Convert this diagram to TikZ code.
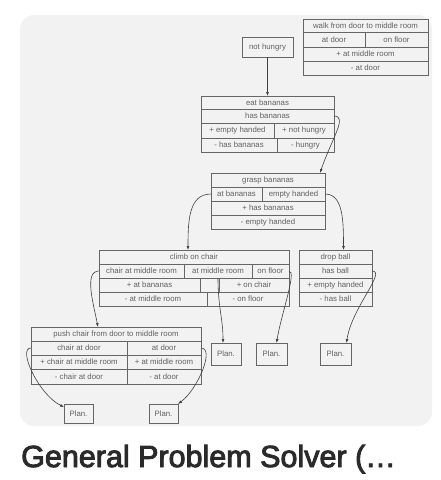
\documentclass[tikz,border=0pt]{standalone}
\usepackage{fontspec}
\setmainfont{Liberation Sans}
\newfontfamily\titlefont[FakeBold=3]{Liberation Sans}
\usetikzlibrary{arrows.meta}

\definecolor{cardgray}{HTML}{F2F2F2}
\definecolor{titleink}{HTML}{2A2A2A}

% one cell of a record: name, x1, y1, x2, y2, text
\newcommand{\rcell}[6]{\node (#1) [cell, minimum width={#4-#2}, minimum height={#5-#3}]
  at ({(#2+#4)/2},{(#3+#5)/2}) {#6};}

\begin{document}
\begin{tikzpicture}[x=1pt, y=-1pt,
    cell/.style={draw=black!60, line width=0.65pt, inner sep=0pt, outer sep=0pt,
                 text=black!62, font=\fontsize{7.8}{8}\selectfont},
    edge/.style={draw=black!75, line width=0.6pt, -{Latex[length=4pt,width=3pt]}}]
  \useasboundingbox (0,0) rectangle (440,480);
  \fill[cardgray, rounded corners=14pt] (20,15) rectangle (432,426);

  % operator: walk
  \rcell{walk}{303}{19}{428}{32}{walk from door to middle room}
  \rcell{walk-pre1}{303}{32}{365}{47}{at door}
  \rcell{walk-pre2}{365}{32}{428}{47}{on floor}
  \rcell{walk-add}{303}{47}{428}{61}{+ at middle room}
  \rcell{walk-del}{303}{61}{428}{75}{- at door}

  % goal
  \rcell{goal}{242}{37}{293}{57}{not hungry}

  % operator: eat
  \rcell{eat}{201}{96}{334}{109}{eat bananas}
  \rcell{eat-pre}{201}{109}{334}{123}{has bananas}
  \rcell{eat-add1}{201}{123}{274}{138}{+ empty handed}
  \rcell{eat-add2}{274}{123}{334}{138}{+ not hungry}
  \rcell{eat-del1}{201}{138}{277}{152}{- has bananas}
  \rcell{eat-del2}{277}{138}{334}{152}{- hungry}

  % operator: grasp
  \rcell{grasp}{211}{173}{325}{187}{grasp bananas}
  \rcell{grasp-pre1}{211}{187}{262}{201}{at bananas}
  \rcell{grasp-pre2}{262}{187}{325}{201}{empty handed}
  \rcell{grasp-add}{211}{201}{325}{215}{+ has bananas}
  \rcell{grasp-del}{211}{215}{325}{229}{- empty handed}

  % operator: climb
  \rcell{climb}{99}{250}{289}{264}{climb on chair}
  \rcell{climb-pre1}{99}{264}{184}{278}{chair at middle room}
  \rcell{climb-pre2}{184}{264}{252}{278}{at middle room}
  \rcell{climb-pre3}{252}{264}{289}{278}{on floor}
  \rcell{climb-add1}{99}{278}{200}{292}{+ at bananas}
  \rcell{climb-add2}{200}{278}{219}{292}{}
  \rcell{climb-add3}{219}{278}{289}{292}{+ on chair}
  \rcell{climb-del1}{99}{292}{207}{306}{- at middle room}
  \rcell{climb-del2}{207}{292}{289}{306}{- on floor}

  % operator: drop
  \rcell{drop}{299}{250}{372}{264}{drop ball}
  \rcell{drop-pre}{299}{264}{372}{278}{has ball}
  \rcell{drop-add}{299}{278}{372}{292}{+ empty handed}
  \rcell{drop-del}{299}{292}{372}{306}{- has ball}

  % operator: push
  \rcell{push}{31}{327}{201}{341}{push chair from door to middle room}
  \rcell{push-pre1}{31}{341}{127}{355}{chair at door}
  \rcell{push-pre2}{127}{341}{201}{355}{at door}
  \rcell{push-add1}{31}{355}{127}{369}{+ chair at middle room}
  \rcell{push-add2}{127}{355}{201}{369}{+ at middle room}
  \rcell{push-del1}{31}{369}{127}{384}{- chair at door}
  \rcell{push-del2}{127}{369}{201}{384}{- at door}

  % leaves
  \rcell{plan1}{64}{404}{93}{423}{Plan.}
  \rcell{plan2}{149}{404}{178}{423}{Plan.}
  \rcell{plan3}{211}{343}{241}{365}{Plan.}
  \rcell{plan4}{256}{343}{287}{365}{Plan.}
  \rcell{plan5}{320}{343}{351}{365}{Plan.}

  \draw[edge] (goal) -- (eat);
  \draw[edge] (eat-pre.east) .. controls +(14,0) and +(12,-35) .. ([xshift=-5pt]grasp.north east);
  \draw[edge] (grasp-pre1.west) .. controls +(-22,0) and +(0,-30) .. ([xshift=-6pt]climb.north);
  \draw[edge] (grasp-pre2.east) .. controls +(18,0) and +(0,-30) .. ([xshift=8pt]drop.north);
  \draw[edge] (climb-pre1.west) .. controls +(-15,0) and +(-5,-25) .. ([xshift=-18pt]push.north);
  \draw[edge] (climb-pre2.south) .. controls +(0,30) and +(0,-25) .. ([xshift=-3pt]plan3.north);
  \draw[edge] (climb-pre3.east) .. controls +(8,0) and +(5,-30) .. ([xshift=5pt]plan4.north);
  \draw[edge] (drop-pre.east) .. controls +(15,0) and +(5,-35) .. ([xshift=11pt]plan5.north);
  \draw[edge] (push-pre1.west) .. controls +(-14,0) and +(-25,-12) .. ([yshift=-3pt]plan1.north west);
  \draw[edge] (push-pre2.east) .. controls +(14,0) and +(20,-15) .. (plan2.north east);

  \node (title) [anchor=base west, inner sep=0pt, text=titleink,
                 font=\titlefont\fontsize{30.5}{32}\selectfont]
        at (21,467) {General Problem Solver (…};
\end{tikzpicture}
\end{document}
